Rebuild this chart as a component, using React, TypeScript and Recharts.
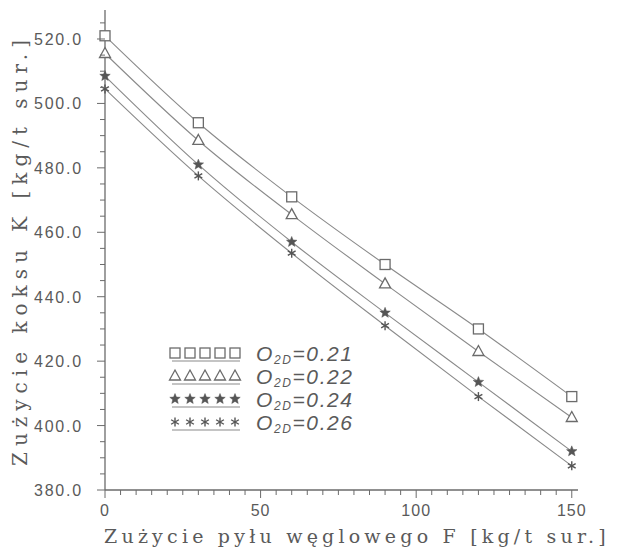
import React from 'react';
import { LineChart, Line, XAxis, YAxis } from 'recharts';

const xValues = [0, 30, 60, 90, 120, 150];
const k021 = [521.0, 494.0, 471.0, 450.0, 430.0, 409.0];
const k022 = [515.5, 488.5, 465.5, 444.0, 423.0, 402.5];
const k024 = [508.5, 481.0, 457.0, 435.0, 413.5, 392.0];
const k026 = [504.5, 477.5, 453.5, 431.0, 409.0, 387.5];
const seriesNames = ['0.21', '0.22', '0.24', '0.26'];
const xTicks = Array.from({ length: 31 }, (_, i) => i * 5);
const yTicks = Array.from({ length: 30 }, (_, i) => 380 + i * 5);

const data = xValues.map((x, i) => ({ x, a: k021[i], b: k022[i], c: k024[i], d: k026[i] }));

const GRAY = '#6b6b6b';
const LINE = '#8a8a8a';
const TEXT = '#5a5a5a';

type Shape = 'square' | 'triangle' | 'star' | 'asterisk';

const Marker = ({ cx, cy, shape }: { cx: number; cy: number; shape: Shape }) => {
  if (shape === 'square')
    return <rect x={cx - 5} y={cy - 5} width={10} height={10} fill="#fff" stroke={GRAY} strokeWidth={1.3} />;
  if (shape === 'triangle')
    return <path d={`M${cx},${cy - 6} L${cx + 5.5},${cy + 4} L${cx - 5.5},${cy + 4} Z`} fill="#fff" stroke={GRAY} strokeWidth={1.3} />;
  if (shape === 'star') {
    const pts = [];
    for (let i = 0; i < 10; i++) {
      const r = i % 2 === 0 ? 5.5 : 2.4;
      const a = -Math.PI / 2 + (i * Math.PI) / 5;
      pts.push(`${cx + r * Math.cos(a)},${cy + r * Math.sin(a)}`);
    }
    return <polygon points={pts.join(' ')} fill="#555" stroke="#555" strokeWidth={0.5} />;
  }
  const arms = [0, 60, 120].map((deg) => {
    const a = (deg * Math.PI) / 180 + Math.PI / 2;
    return (
      <line key={deg} x1={cx - 4.5 * Math.cos(a)} y1={cy - 4.5 * Math.sin(a)} x2={cx + 4.5 * Math.cos(a)} y2={cy + 4.5 * Math.sin(a)} stroke="#555" strokeWidth={1.4} />
    );
  });
  return <g>{arms}</g>;
};

const dotFor = (shape: Shape) => (props: any) =>
  <Marker key={`${shape}-${props.index}`} cx={props.cx} cy={props.cy} shape={shape} />;

const XTick = (props: any) => {
  const { x, y, payload } = props;
  const major = payload.value % 50 === 0;
  return (
    <g>
      <line x1={x} y1={y} x2={x} y2={y + (major ? 8 : 5)} stroke={GRAY} strokeWidth={1} />
      {major && (
        <text x={x} y={y + 26} textAnchor="middle" fontSize={16} fill={TEXT} fontFamily="Liberation Sans, Arial, sans-serif" letterSpacing={1}>
          {payload.value}
        </text>
      )}
    </g>
  );
};

const YTick = (props: any) => {
  const { x, y, payload } = props;
  const major = payload.value % 20 === 0;
  return (
    <g>
      <line x1={x - (major ? 8 : 5)} y1={y} x2={x} y2={y} stroke={GRAY} strokeWidth={1} />
      {major && (
        <text x={x - 22} y={y + 6} textAnchor="end" fontSize={16} fill={TEXT} fontFamily="Liberation Sans, Arial, sans-serif" letterSpacing={1.8}>
          {payload.value.toFixed(1)}
        </text>
      )}
    </g>
  );
};

const shapes: Shape[] = ['square', 'triangle', 'star', 'asterisk'];

const LegendBox = () => (
  <svg width={300} height={100} style={{ position: 'absolute', left: 160, top: 338 }}>
    {seriesNames.map((name, r) => {
      const cy = 15 + r * 23;
      return (
        <g key={name}>
          {[0, 1, 2, 3, 4].map((i) => (
            <Marker key={i} cx={15 + i * 15} cy={cy} shape={shapes[r]} />
          ))}
          <line x1={12} y1={cy + 8} x2={80} y2={cy + 8} stroke={LINE} strokeWidth={1.2} />
          <text x={96} y={cy + 8} fontSize={21} fill={TEXT} fontStyle="italic" fontFamily="Liberation Sans, Arial, sans-serif" letterSpacing={1.6}>
            O
            <tspan fontSize={12} dy={3}>2D</tspan>
            <tspan dy={-3}>={name}</tspan>
          </text>
        </g>
      );
    })}
  </svg>
);

export default function App() {
  return (
    <div style={{ position: 'absolute', left: 0, top: 0, width: 618, height: 553, background: '#fff' }}>
      <LineChart width={618} height={553} data={data} margin={{ top: 10, right: 40, bottom: 33, left: 5 }}>
        <XAxis
          dataKey="x"
          type="number"
          domain={[0, 152]}
          ticks={xTicks}
          interval={0}
          tickSize={0}
          tickMargin={0}
          tick={<XTick />}
          axisLine={{ stroke: GRAY, strokeWidth: 1.3 }}
          height={30}
        />
        <YAxis
          type="number"
          domain={[380, 529]}
          ticks={yTicks}
          interval={0}
          tickSize={0}
          tickMargin={0}
          tick={<YTick />}
          axisLine={{ stroke: GRAY, strokeWidth: 1.3 }}
          width={100}
        />
        <Line type="monotone" dataKey="a" stroke={LINE} strokeWidth={1.1} dot={dotFor('square')} isAnimationActive={false} />
        <Line type="monotone" dataKey="b" stroke={LINE} strokeWidth={1.1} dot={dotFor('triangle')} isAnimationActive={false} />
        <Line type="monotone" dataKey="c" stroke={LINE} strokeWidth={1.1} dot={dotFor('star')} isAnimationActive={false} />
        <Line type="monotone" dataKey="d" stroke={LINE} strokeWidth={1.1} dot={dotFor('asterisk')} isAnimationActive={false} />
      </LineChart>
      <div
        style={{
          position: 'absolute', left: 357, top: 536, transform: 'translate(-50%, -50%)', whiteSpace: 'nowrap',
          fontFamily: 'DejaVu Serif, serif', fontSize: 19, letterSpacing: 4.2, color: TEXT,
        }}
      >
        Zużycie pyłu węglowego F [kg/t sur.]
      </div>
      <div
        style={{
          position: 'absolute', left: 20, top: 250, transform: 'translate(-50%, -50%) rotate(-90deg)', whiteSpace: 'nowrap',
          fontFamily: 'DejaVu Serif, serif', fontSize: 20, letterSpacing: 6, color: TEXT,
        }}
      >
        Zużycie koksu K [kg/t sur.]
      </div>
      <LegendBox />
    </div>
  );
}
